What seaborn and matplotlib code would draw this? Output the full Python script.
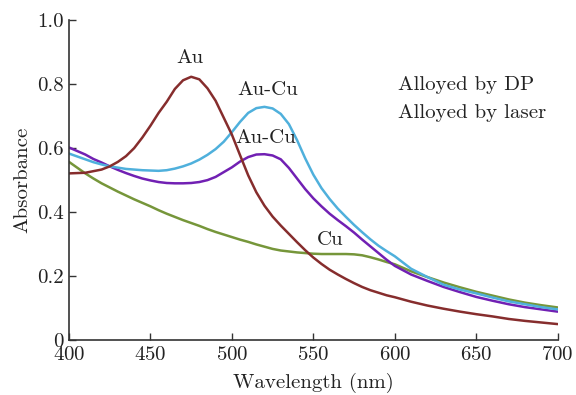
import matplotlib
matplotlib.use("Agg")
import matplotlib.pyplot as plt
import seaborn as sns
import pandas as pd
from matplotlib.ticker import FuncFormatter

wl = [400, 405, 410, 415, 420, 425, 430, 435, 440, 445, 450, 455, 460, 465, 470, 475,
      480, 485, 490, 495, 500, 505, 510, 515, 520, 525, 530, 535, 540, 545, 550, 555,
      560, 565, 570, 575, 580, 585, 590, 595, 600,
      610, 620, 630, 640, 650, 660, 670, 680, 690, 700]
au = [0.521, 0.522, 0.523, 0.528, 0.533, 0.543, 0.557, 0.575, 0.600, 0.633, 0.670, 0.710,
      0.745, 0.785, 0.812, 0.823, 0.815, 0.787, 0.748, 0.695, 0.642, 0.578, 0.515, 0.462,
      0.420, 0.386, 0.358, 0.332, 0.306, 0.281, 0.258, 0.238, 0.220, 0.205, 0.191, 0.178,
      0.166, 0.156, 0.148, 0.140, 0.134,
      0.120, 0.108, 0.098, 0.089, 0.081, 0.074, 0.066, 0.060, 0.055, 0.050]
aucu_dp = [0.583, 0.574, 0.565, 0.556, 0.549, 0.543, 0.539, 0.535, 0.533, 0.531, 0.530, 0.529,
           0.531, 0.536, 0.543, 0.552, 0.564, 0.579, 0.597, 0.620, 0.650, 0.682, 0.710, 0.725,
           0.729, 0.724, 0.707, 0.675, 0.625, 0.568, 0.517, 0.475, 0.441, 0.411, 0.385, 0.360,
           0.337, 0.315, 0.295, 0.278, 0.262,
           0.223, 0.197, 0.173, 0.158, 0.146, 0.133, 0.121, 0.112, 0.103, 0.096]
aucu_laser = [0.602, 0.591, 0.580, 0.566, 0.555, 0.543, 0.532, 0.522, 0.513, 0.505, 0.499, 0.494,
              0.491, 0.490, 0.490, 0.491, 0.494, 0.500, 0.510, 0.525, 0.540, 0.558, 0.572, 0.580,
              0.581, 0.577, 0.565, 0.538, 0.505, 0.472, 0.443, 0.418, 0.395, 0.375, 0.356, 0.336,
              0.314, 0.293, 0.272, 0.251, 0.232,
              0.205, 0.185, 0.166, 0.150, 0.135, 0.123, 0.112, 0.103, 0.096, 0.089]
cu = [0.557, 0.539, 0.521, 0.505, 0.490, 0.477, 0.464, 0.452, 0.440, 0.429, 0.418, 0.406,
      0.395, 0.385, 0.375, 0.366, 0.357, 0.347, 0.338, 0.330, 0.322, 0.314, 0.307, 0.299,
      0.292, 0.285, 0.280, 0.277, 0.274, 0.272, 0.270, 0.269, 0.269, 0.269, 0.269, 0.268,
      0.265, 0.259, 0.252, 0.244, 0.237,
      0.215, 0.197, 0.180, 0.165, 0.151, 0.139, 0.127, 0.117, 0.109, 0.102]

series = {"Au": au, "Au-Cu DP": aucu_dp, "Au-Cu laser": aucu_laser, "Cu": cu}
colors = {"Au": "#862d2d", "Au-Cu DP": "#4fb0dc", "Au-Cu laser": "#7120b3", "Cu": "#76963a"}

rows = []
for name, vals in series.items():
    for w, v in zip(wl, vals):
        rows.append({"wl": w, "abs": v, "s": name})
df = pd.DataFrame(rows)

sns.set_style("ticks")
plt.rcParams["font.family"] = ["cmr10", "DejaVu Serif"]
plt.rcParams["mathtext.fontset"] = "cm"
plt.rcParams["axes.formatter.use_mathtext"] = True

fig = plt.figure(figsize=(5.76, 3.95), dpi=100)
ax = fig.add_axes([0.1198, 0.139, 0.8484, 0.810])

for name in ["Cu", "Au-Cu laser", "Au-Cu DP", "Au"]:
    sns.lineplot(data=df[df.s == name], x="wl", y="abs", color=colors[name],
                 linewidth=1.8, ax=ax, legend=False)

ax.set_xlim(400, 700)
ax.set_ylim(0, 1.0)
ax.set_xticks([400, 450, 500, 550, 600, 650, 700])
ax.set_yticks([0, 0.2, 0.4, 0.6, 0.8, 1.0])
ax.yaxis.set_major_formatter(FuncFormatter(lambda v, p: "0" if v == 0 else f"{v:.1f}"))
ax.tick_params(direction="in", length=5, width=1, labelsize=15, pad=4,
               colors="#333333", labelcolor="#222222")
for s in ["top", "right"]:
    ax.spines[s].set_visible(False)
for s in ["left", "bottom"]:
    ax.spines[s].set_linewidth(1.2)
    ax.spines[s].set_color("#333333")
ax.set_xlabel("Wavelength (nm)", fontsize=15, labelpad=7, color="#222222")
ax.set_ylabel("Absorbance", fontsize=15, labelpad=4, color="#222222")

fs = 15
ax.text(474.4, 0.88, "Au", fontsize=fs, ha="center", va="center", color="#222222")
ax.text(521.7, 0.78, "Au-Cu", fontsize=fs, ha="center", va="center", color="#222222")
ax.text(521.0, 0.63, "Au-Cu", fontsize=fs, ha="center", va="center", color="#222222")
ax.text(560.4, 0.3125, "Cu", fontsize=fs, ha="center", va="center", color="#222222")
ax.text(602.2, 0.797, "Alloyed by DP", fontsize=fs, ha="left", va="center", color="#222222")
ax.text(602.2, 0.709, "Alloyed by laser", fontsize=fs, ha="left", va="center", color="#222222")

fig.savefig("out.png", dpi=100)
